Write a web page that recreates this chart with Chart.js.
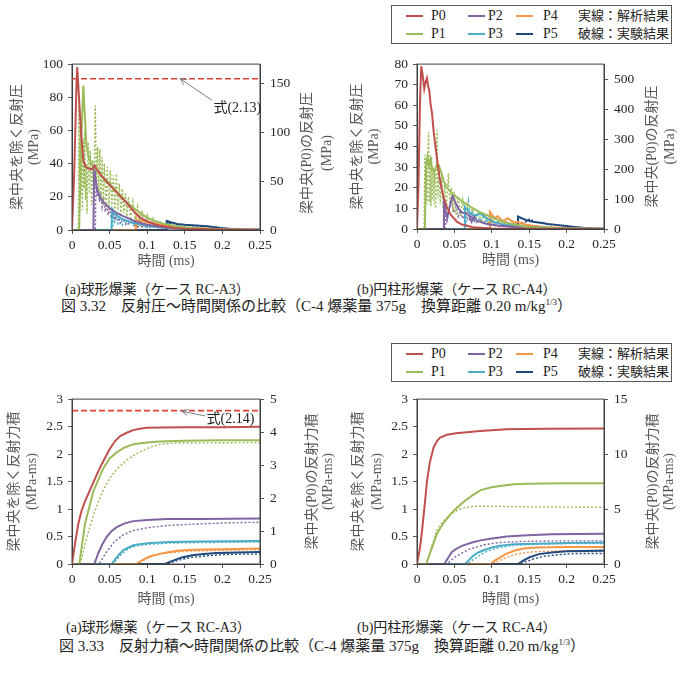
<!DOCTYPE html>
<html>
<head>
<meta charset="utf-8">
<script src="https://cdn.jsdelivr.net/npm/chart.js@4"></script>
<style>
  body { margin: 0; width: 684px; height: 679px; position: relative; overflow: hidden; background: #fff;
         font-family: "Liberation Serif", "Noto Sans CJK JP", serif; color: #222; }
  canvas { position: absolute; }
  .cap { position: absolute; white-space: nowrap; font-size: 14px; line-height: 16px; }
  .fig { font-size: 15px; line-height: 17px; }
  .fig sup { font-size: 9px; vertical-align: 6px; line-height: 0; }
  .legend { position: absolute; border: 1px solid #595959; width: 279px; height: 37px; font-size: 14px; }
  .legend span { position: absolute; white-space: nowrap; line-height: 16px; }
  .legend i { position: absolute; width: 17px; height: 2px; }
</style>
</head>
<body>
<canvas id="chartA3p" width="340" height="225" style="left:0;top:50px"></canvas>
<canvas id="chartA4p" width="344" height="225" style="left:340px;top:50px"></canvas>
<canvas id="chartA3i" width="340" height="225" style="left:0;top:385px"></canvas>
<canvas id="chartA4i" width="344" height="225" style="left:340px;top:385px"></canvas>

<div class="cap" style="left:65px;top:282px">(a)球形爆薬（ケース RC-A3）</div>
<div class="cap" style="left:357px;top:282px">(b)円柱形爆薬（ケース RC-A4）</div>
<div class="cap fig" style="left:61px;top:298px">図 3.32　反射圧～時間関係の比較（C-4 爆薬量 375g　換算距離 0.20 m/kg<sup>1/3</sup>）</div>
<div class="cap" style="left:66px;top:620px">(a)球形爆薬（ケース RC-A3）</div>
<div class="cap" style="left:357px;top:620px">(b)円柱形爆薬（ケース RC-A4）</div>
<div class="cap fig" style="left:59px;top:638px">図 3.33　反射力積～時間関係の比較（C-4 爆薬量 375g　換算距離 0.20 m/kg<sup>1/3</sup>）</div>

<script>
// series names / colours
const seriesNames = ['P0', 'P1', 'P2', 'P3', 'P4', 'P5'];
const seriesColors = ['#C0504D', '#9BBB59', '#8064A2', '#4BACC6', '#F79646', '#1F497D'];
const legendNotes = ['実線：解析結果', '破線：実験結果'];

// axis ticks
const timeMax = 0.25, timeStep = 0.05;

// ---- (a) RC-A3 reflected pressure [time ms, MPa] ----
const p0SimA3p = [[0,0],[0.003,60],[0.006,150],[0.007,167],[0.009,140],[0.012,100],[0.015,72],[0.018,65],[0.022,63],[0.026,62],[0.03,66],[0.033,62],[0.04,55],[0.05,46],[0.06,38],[0.07,30],[0.08,21],[0.09,13],[0.1,9],[0.11,6],[0.12,4],[0.135,2],[0.15,1.2],[0.2,0.4],[0.25,0]];
const p1SimA3p = [[0,0],[0.0095,0],[0.012,50],[0.015,87],[0.017,70],[0.019,52],[0.022,44],[0.026,40],[0.03,37],[0.035,35],[0.04,32],[0.05,28],[0.06,23],[0.07,18],[0.08,14],[0.09,10.5],[0.1,7.5],[0.11,5.5],[0.12,4],[0.14,2.2],[0.16,1.2],[0.2,0.4],[0.25,0.1]];
const p2SimA3p = [[0,0],[0.0285,0],[0.0295,39],[0.031,32],[0.0335,24],[0.037,20],[0.042,16.5],[0.046,15],[0.05,13],[0.057,11],[0.065,9],[0.075,7],[0.085,5],[0.1,3.2],[0.12,1.8],[0.15,0.9],[0.2,0.3],[0.25,0.1]];
const p3SimA3p = [[0,0],[0.0525,0],[0.0535,12.5],[0.056,10],[0.06,8.5],[0.065,7],[0.07,6],[0.08,4.5],[0.09,3.5],[0.1,2.6],[0.11,2],[0.125,1.4],[0.15,0.9],[0.2,0.3],[0.25,0.1]];
const p4SimA3p = [[0,0],[0.085,0],[0.0855,6],[0.09,5],[0.095,5.5],[0.1,4.5],[0.11,3.8],[0.12,3],[0.13,2.3],[0.14,1.8],[0.16,1.2],[0.18,0.8],[0.2,0.5],[0.25,0.1]];
const p5SimA3p = [[0,0],[0.1255,0],[0.126,5.5],[0.13,4.8],[0.14,3.6],[0.15,3.1],[0.16,2.9],[0.17,2.6],[0.18,2.2],[0.19,1.6],[0.2,1.1],[0.21,0.7],[0.22,0.5],[0.235,0.2],[0.25,0.1]];
const p1ExpA3p = [[0,0],[0.0085,0],[0.009,80],[0.01,30],[0.011,62],[0.012,20],[0.013,45],[0.014,12],[0.015,55],[0.016,25],[0.017,60],[0.018,18],[0.019,40],[0.02,10],[0.0215,53],[0.023,22],[0.0245,48],[0.026,15],[0.0275,42],[0.029,20],[0.031,75],[0.0325,28],[0.034,50],[0.0355,20],[0.037,49],[0.0385,18],[0.04,44],[0.0415,15],[0.043,40],[0.045,14],[0.047,38],[0.049,12],[0.051,36],[0.053,15],[0.055,33],[0.057,10],[0.059,34],[0.061,12],[0.063,28],[0.065,8],[0.067,25],[0.069,10],[0.071,22],[0.073,8],[0.075,20],[0.078,6],[0.081,17],[0.084,5],[0.087,14],[0.09,4],[0.093,12],[0.096,3],[0.1,9],[0.104,2],[0.108,7],[0.112,2],[0.117,5],[0.122,1],[0.13,3],[0.14,1],[0.16,1.5],[0.18,0.5],[0.2,0.6],[0.25,0.2]];
const p2ExpA3p = [[0,0],[0.031,0],[0.032,28],[0.0335,20],[0.035,26],[0.0365,17],[0.038,23],[0.04,14],[0.042,20],[0.044,11],[0.046,16],[0.048,9],[0.05,13],[0.052,7],[0.054,11],[0.057,6],[0.06,9],[0.064,4],[0.068,7],[0.072,3],[0.078,5],[0.085,2],[0.1,2],[0.13,0.8],[0.2,0.2],[0.25,0]];
const p3ExpA3p = [[0,0],[0.054,0],[0.055,10],[0.057,5],[0.059,9],[0.061,4],[0.064,8],[0.067,3],[0.07,6],[0.074,3],[0.078,5],[0.083,2],[0.09,4],[0.1,1.5],[0.11,2.5],[0.13,1],[0.16,0.8],[0.2,0.3],[0.25,0]];
const p4ExpA3p = [[0,0],[0.084,0],[0.085,9],[0.087,3],[0.089,8],[0.091,2],[0.094,7],[0.097,2],[0.1,6],[0.103,1],[0.106,6],[0.109,2],[0.112,5],[0.116,1],[0.12,4],[0.124,1],[0.128,3],[0.133,1],[0.14,2],[0.15,0.8],[0.17,1],[0.2,0.3],[0.25,0]];
const p5ExpA3p = [[0,0],[0.127,0],[0.128,4.5],[0.132,3.5],[0.136,4],[0.14,3],[0.15,3.2],[0.16,2.5],[0.17,2.6],[0.18,2],[0.19,1.8],[0.2,1],[0.21,0.6],[0.23,0.3],[0.25,0.1]];
const formulaA3p = 155;   // 式(2.13), right axis

// ---- (b) RC-A4 reflected pressure ----
const p0SimA4p = [[0,0],[0.002,150],[0.004,420],[0.0057,543],[0.0075,515],[0.0097,468],[0.0115,490],[0.0133,503],[0.015,475],[0.0165,460],[0.018,420],[0.02,387],[0.0225,320],[0.0245,279],[0.028,210],[0.031,160],[0.035,110],[0.04,73],[0.045,48],[0.053,25],[0.06,15],[0.075,6],[0.1,2],[0.15,0.5],[0.25,0]];
const p1SimA4p = [[0,0],[0.0105,0],[0.012,30],[0.014,35],[0.016,31],[0.018,34],[0.02,29],[0.023,28],[0.0265,31],[0.029,31],[0.032,28],[0.036,23],[0.04,20],[0.045,18],[0.053,15.4],[0.06,13.5],[0.068,11.5],[0.0756,9.9],[0.085,8],[0.098,6],[0.11,4.2],[0.12,3],[0.135,1.8],[0.147,1],[0.17,0.6],[0.2,0.3],[0.25,0.1]];
const p2SimA4p = [[0,0],[0.0355,0],[0.036,14.6],[0.038,9],[0.0405,5.5],[0.043,10],[0.0476,16.2],[0.051,13],[0.0556,9.9],[0.06,8],[0.0667,7.6],[0.07,6.5],[0.073,3.6],[0.076,6],[0.08,4],[0.09,2.8],[0.098,2.2],[0.11,1.6],[0.13,1],[0.16,0.6],[0.2,0.3],[0.25,0.1]];
const p3SimA4p = [[0,0],[0.0635,0],[0.064,10.7],[0.068,9],[0.072,7.5],[0.076,6.5],[0.08,6.8],[0.0845,7.4],[0.09,6],[0.095,4.8],[0.1,3.8],[0.11,2.6],[0.12,2],[0.135,1.4],[0.15,1],[0.175,0.6],[0.2,0.3],[0.25,0.1]];
const p4SimA4p = [[0,0],[0.0965,0],[0.0975,8.3],[0.1,7],[0.1045,5.2],[0.108,6.2],[0.111,5],[0.114,3.8],[0.118,4.5],[0.1215,5.2],[0.125,4.2],[0.13,3.2],[0.135,3.4],[0.14,2.8],[0.146,2.1],[0.155,1.6],[0.17,1],[0.185,0.7],[0.2,0.5],[0.225,0.3],[0.25,0.1]];
const p5SimA4p = [[0,0],[0.1345,0],[0.135,6],[0.14,5.2],[0.147,4.2],[0.155,3.5],[0.165,3],[0.175,2.4],[0.187,2],[0.2,1.4],[0.21,1],[0.222,0.6],[0.235,0.3],[0.25,0.1]];
const p1ExpA4p = [[0,0],[0.0095,0],[0.0105,36],[0.0115,14],[0.0125,34],[0.0135,12],[0.0145,37],[0.0155,47],[0.0165,13],[0.0175,33],[0.0185,11],[0.0195,35],[0.0205,14],[0.0215,30],[0.0225,12],[0.0235,28],[0.025,10],[0.0267,48],[0.028,15],[0.0295,30],[0.031,12],[0.033,25],[0.035,10],[0.037,22],[0.039,9],[0.042,27],[0.044,10],[0.046,20],[0.048,8],[0.05,18],[0.052,7],[0.055,16],[0.058,6],[0.061,14],[0.064,5],[0.067,12],[0.07,5],[0.074,10],[0.078,4],[0.082,9],[0.086,3],[0.09,7],[0.095,3],[0.1,5],[0.106,2],[0.112,4],[0.12,1.5],[0.13,2.5],[0.14,1],[0.16,1],[0.2,0.3],[0.25,0.1]];
const p2ExpA4p = [[0,0],[0.0375,0],[0.038,13],[0.04,4],[0.043,9],[0.046,14],[0.049,8],[0.052,11],[0.055,6],[0.058,9],[0.061,5],[0.065,7],[0.069,4],[0.073,6],[0.078,3],[0.085,4],[0.095,2],[0.11,1.5],[0.14,0.8],[0.2,0.3],[0.25,0]];
const p3ExpA4p = [[0,0],[0.066,0],[0.067,8],[0.069,13.4],[0.071,5],[0.074,9],[0.077,4],[0.08,7],[0.084,4],[0.088,6],[0.092,3],[0.097,5],[0.102,2],[0.108,3.5],[0.115,1.5],[0.125,2],[0.14,1],[0.17,0.6],[0.2,0.3],[0.25,0]];
const p4ExpA4p = [[0,0],[0.098,0],[0.099,6],[0.102,3],[0.105,5],[0.108,2.5],[0.112,4],[0.116,2],[0.12,3.5],[0.125,1.5],[0.13,3],[0.136,1.5],[0.142,2.5],[0.15,1.2],[0.16,1.5],[0.175,0.8],[0.2,0.4],[0.25,0.1]];
const p5ExpA4p = [[0,0],[0.138,0],[0.139,3.5],[0.143,2.5],[0.148,4.5],[0.152,5],[0.157,3.5],[0.162,3],[0.168,3.2],[0.175,2.2],[0.185,2],[0.2,1.2],[0.215,0.8],[0.23,0.4],[0.25,0.1]];

// ---- (a) RC-A3 reflected impulse [time ms, MPa-ms] ----
const p0SimA3i = [[0,0],[0.004,0.62],[0.0084,1.22],[0.0125,1.6],[0.0173,1.9],[0.025,2.3],[0.0328,2.7],[0.04,3.05],[0.05,3.48],[0.057,3.72],[0.064,3.88],[0.0727,3.98],[0.0815,4.06],[0.09,4.1],[0.099,4.13],[0.12,4.14],[0.15,4.15],[0.2,4.15],[0.25,4.16]];
const p1SimA3i = [[0,0],[0.0097,0],[0.0173,0.73],[0.0283,1.32],[0.0416,1.74],[0.05,1.92],[0.0594,2.03],[0.07,2.12],[0.0816,2.18],[0.1,2.21],[0.117,2.23],[0.15,2.24],[0.2,2.25],[0.25,2.25]];
const p2SimA3i = [[0,0],[0.0297,0],[0.035,0.2],[0.04,0.35],[0.046,0.49],[0.052,0.59],[0.0594,0.67],[0.07,0.74],[0.0815,0.78],[0.1,0.8],[0.126,0.82],[0.17,0.82],[0.25,0.83]];
const p3SimA3i = [[0,0],[0.053,0],[0.058,0.1],[0.063,0.18],[0.068,0.25],[0.075,0.3],[0.0816,0.34],[0.09,0.36],[0.104,0.38],[0.13,0.4],[0.17,0.41],[0.25,0.42]];
const p4SimA3i = [[0,0],[0.086,0],[0.09,0.04],[0.095,0.08],[0.104,0.14],[0.115,0.18],[0.126,0.21],[0.14,0.24],[0.16,0.26],[0.2,0.27],[0.25,0.28]];
const p5SimA3i = [[0,0],[0.124,0],[0.13,0.04],[0.138,0.08],[0.146,0.12],[0.16,0.16],[0.175,0.18],[0.192,0.2],[0.22,0.21],[0.25,0.22]];
const p1ExpA3i = [[0,0],[0.011,0],[0.02,0.5],[0.03,0.95],[0.04,1.3],[0.05,1.56],[0.06,1.73],[0.0727,1.89],[0.085,2.0],[0.095,2.07],[0.105,2.13],[0.117,2.18],[0.135,2.2],[0.25,2.21]];
const p2ExpA3i = [[0,0],[0.036,0],[0.045,0.2],[0.056,0.4],[0.068,0.53],[0.0815,0.61],[0.1,0.66],[0.126,0.7],[0.17,0.73],[0.21,0.75],[0.25,0.76]];
const p3ExpA3i = [[0,0],[0.055,0],[0.06,0.09],[0.066,0.18],[0.072,0.25],[0.08,0.31],[0.09,0.34],[0.104,0.36],[0.13,0.38],[0.17,0.39],[0.25,0.4]];
const p4ExpA3i = [[0,0],[0.085,0],[0.09,0.03],[0.1,0.1],[0.11,0.16],[0.126,0.2],[0.15,0.23],[0.2,0.25],[0.25,0.26]];
const p5ExpA3i = [[0,0],[0.127,0],[0.135,0.04],[0.145,0.08],[0.16,0.12],[0.18,0.15],[0.2,0.17],[0.22,0.18],[0.25,0.18]];
const formulaA3i = 4.65;  // 式(2.14), right axis

// ---- (b) RC-A4 reflected impulse ----
const p0SimA4i = [[0,0],[0.004,1.5],[0.0067,3.0],[0.01,5.2],[0.0133,7.5],[0.017,9.2],[0.0222,10.6],[0.027,11.2],[0.031,11.5],[0.04,11.75],[0.0523,11.9],[0.0845,12.1],[0.12,12.25],[0.17,12.3],[0.25,12.33]];
const p1SimA4i = [[0,0],[0.0124,0],[0.018,0.22],[0.0267,0.55],[0.035,0.74],[0.0445,0.9],[0.053,1.02],[0.0623,1.13],[0.073,1.24],[0.0845,1.34],[0.098,1.39],[0.111,1.42],[0.13,1.45],[0.147,1.46],[0.2,1.47],[0.25,1.47]];
const p2SimA4i = [[0,0],[0.0369,0],[0.041,0.1],[0.0467,0.22],[0.052,0.27],[0.06,0.33],[0.0756,0.4],[0.085,0.43],[0.098,0.46],[0.12,0.5],[0.141,0.52],[0.18,0.54],[0.25,0.55]];
const p3SimA4i = [[0,0],[0.0645,0],[0.07,0.08],[0.075,0.15],[0.082,0.21],[0.089,0.25],[0.1,0.3],[0.111,0.33],[0.13,0.36],[0.16,0.37],[0.2,0.38],[0.25,0.39]];
const p4SimA4i = [[0,0],[0.098,0],[0.105,0.07],[0.112,0.13],[0.12,0.19],[0.13,0.24],[0.142,0.28],[0.16,0.3],[0.2,0.31],[0.25,0.31]];
const p5SimA4i = [[0,0],[0.135,0],[0.142,0.06],[0.15,0.12],[0.163,0.18],[0.18,0.21],[0.2,0.23],[0.25,0.24]];
const p1ExpA4i = [[0,0],[0.0124,0],[0.018,0.25],[0.0267,0.62],[0.035,0.78],[0.0445,0.9],[0.053,0.97],[0.062,1.02],[0.07,1.04],[0.08,1.05],[0.1,1.05],[0.15,1.04],[0.25,1.03]];
const p2ExpA4i = [[0,0],[0.04,0],[0.05,0.12],[0.06,0.2],[0.07,0.27],[0.08,0.31],[0.09,0.35],[0.11,0.39],[0.14,0.41],[0.18,0.42],[0.25,0.42]];
const p3ExpA4i = [[0,0],[0.068,0],[0.075,0.08],[0.085,0.17],[0.095,0.24],[0.11,0.3],[0.13,0.34],[0.16,0.36],[0.2,0.37],[0.25,0.37]];
const p4ExpA4i = [[0,0],[0.1,0],[0.11,0.06],[0.12,0.12],[0.13,0.17],[0.145,0.21],[0.165,0.23],[0.2,0.24],[0.25,0.26]];
const p5ExpA4i = [[0,0],[0.138,0],[0.145,0.04],[0.155,0.09],[0.17,0.14],[0.19,0.17],[0.21,0.19],[0.25,0.19]];

const tickFont = { family: '"Liberation Serif", serif', size: 13.5 };
const titleFont = '14px "Liberation Serif", "Noto Sans CJK JP", sans-serif';

// frame around the plot, rotated axis titles and the 式 arrow note
const panelDecor = {
    id: 'panelDecor',
    afterDraw(chart, args, o) {
        const { ctx, chartArea: a } = chart;
        ctx.save();
        ctx.strokeStyle = '#404040';
        ctx.lineWidth = 1;
        ctx.strokeRect(a.left, a.top, a.right - a.left, a.bottom - a.top);

        ctx.fillStyle = '#595959';
        ctx.font = titleFont;
        ctx.textAlign = 'center';
        ctx.textBaseline = 'middle';
        const midY = (a.top + a.bottom) / 2;
        o.yTitles.forEach(t => {
            ctx.save();
            ctx.translate(t.x, midY + (t.dy || 0));
            ctx.rotate(-Math.PI / 2);
            ctx.fillText(t.text, 0, 0);
            ctx.restore();
        });
        ctx.fillText('時間 (ms)', (a.left + a.right) / 2, a.bottom + o.xGap);

        if (o.note) {
            const xs = chart.scales.x, ys = chart.scales.y1;
            const tx = xs.getPixelForValue(o.note.tip[0]), ty = ys.getPixelForValue(o.note.tip[1]);
            const fx = xs.getPixelForValue(o.note.from[0]), fy = ys.getPixelForValue(o.note.from[1]);
            ctx.strokeStyle = '#7f7f7f';
            ctx.beginPath();
            ctx.moveTo(fx, fy);
            ctx.lineTo(tx, ty);
            const ang = Math.atan2(ty - fy, tx - fx);
            [0.45, -0.45].forEach(d => {
                ctx.moveTo(tx, ty);
                ctx.lineTo(tx - 7 * Math.cos(ang + d), ty - 7 * Math.sin(ang + d));
            });
            ctx.stroke();
            ctx.fillStyle = '#222';
            ctx.textAlign = 'left';
            ctx.fillText(o.note.text, xs.getPixelForValue(o.note.at[0]), ys.getPixelForValue(o.note.at[1]));
        }
        ctx.restore();
    }
};

function lineSet(pts, color, dotted, axis, width) {
    return {
        data: pts.map(p => ({ x: p[0], y: p[1] })),
        showLine: true,
        borderColor: color,
        borderWidth: dotted ? 1.4 : width,
        borderDash: dotted ? [2, 2] : [],
        pointRadius: 0,
        yAxisID: axis
    };
}

function tickText(v) {
    return String(Math.round(v * 100) / 100);
}

function makeChart(p) {
    const sets = [];
    p.sims.forEach((pts, i) => sets.push(lineSet(pts, seriesColors[i], false, i === 0 ? 'y1' : 'y', 2)));
    p.exps.forEach((pts, i) => {
        if (pts) sets.push(lineSet(pts, seriesColors[i], true, i === 0 ? 'y1' : 'y', 2));
    });
    if (p.formula != null) {
        const f = lineSet([[0, p.formula], [timeMax, p.formula]], '#E0403A', false, 'y1', 1.6);
        f.borderDash = [6, 3];
        sets.push(f);
    }

    const axisGrid = { drawOnChartArea: false, drawTicks: true, tickLength: 4, color: '#595959' };
    const axisBorder = { display: true, color: '#404040' };

    new Chart(document.getElementById(p.id), {
        type: 'scatter',
        data: { datasets: sets },
        options: {
            responsive: false,
            animation: false,
            layout: { padding: { top: p.area[1] - p.top, left: 0, right: 0, bottom: 0 } },
            plugins: {
                legend: { display: false },
                tooltip: { enabled: false },
                panelDecor: { yTitles: p.yTitles.map(t => ({ ...t, x: t.x - p.left })), xGap: p.xGap, note: p.note }
            },
            scales: {
                x: {
                    type: 'linear', min: 0, max: timeMax,
                    ticks: { stepSize: timeStep, font: tickFont, color: '#262626', padding: 3, callback: tickText, maxRotation: 0 },
                    grid: axisGrid, border: axisBorder,
                    afterFit: s => { s.height = p.top + p.h - p.area[3]; }
                },
                y: {
                    position: 'left', min: 0, max: p.yMax,
                    ticks: { stepSize: p.yStep, font: tickFont, color: '#262626', padding: 5, callback: tickText },
                    grid: axisGrid, border: axisBorder,
                    afterFit: s => { s.width = p.area[0] - p.left; }
                },
                y1: {
                    position: 'right', min: 0, max: p.y1Max,
                    ticks: { stepSize: p.y1Step, includeBounds: false, font: tickFont, color: '#262626', padding: 6, callback: tickText },
                    grid: axisGrid, border: axisBorder,
                    afterFit: s => { s.width = p.left + p.w - p.area[2]; }
                }
            }
        },
        plugins: [panelDecor]
    });
}

makeChart({
    id: 'chartA3p', left: 0, top: 50, w: 340, h: 225, area: [72, 60, 260, 230],
    yMax: 100, yStep: 20, y1Max: 170, y1Step: 50, xGap: 31,
    sims: [p0SimA3p, p1SimA3p, p2SimA3p, p3SimA3p, p4SimA3p, p5SimA3p],
    exps: [null, p1ExpA3p, p2ExpA3p, p3ExpA3p, p4ExpA3p, p5ExpA3p],
    formula: formulaA3p,
    note: { text: '式(2.13)', tip: [0.144, 155], from: [0.186, 133], at: [0.188, 125] },
    yTitles: [
        { text: '梁中央を除く反射圧', x: 17 }, { text: '(MPa)', x: 34 },
        { text: '梁中央(P0)の反射圧', x: 307, dy: 6 }, { text: '(MPa)', x: 327, dy: 6 }
    ]
});

makeChart({
    id: 'chartA4p', left: 340, top: 50, w: 344, h: 225, area: [417, 60, 604, 229],
    yMax: 80, yStep: 10, y1Max: 550, y1Step: 100, xGap: 31,
    sims: [p0SimA4p, p1SimA4p, p2SimA4p, p3SimA4p, p4SimA4p, p5SimA4p],
    exps: [null, p1ExpA4p, p2ExpA4p, p3ExpA4p, p4ExpA4p, p5ExpA4p],
    yTitles: [
        { text: '梁中央を除く反射圧', x: 357 }, { text: '(MPa)', x: 374 },
        { text: '梁中央(P0)の反射圧', x: 652 }, { text: '(MPa)', x: 670 }
    ]
});

makeChart({
    id: 'chartA3i', left: 0, top: 385, w: 340, h: 225, area: [72, 396, 260, 564],
    yMax: 3, yStep: 0.5, y1Max: 5, y1Step: 1, xGap: 35,
    sims: [p0SimA3i, p1SimA3i, p2SimA3i, p3SimA3i, p4SimA3i, p5SimA3i],
    exps: [null, p1ExpA3i, p2ExpA3i, p3ExpA3i, p4ExpA3i, p5ExpA3i],
    formula: formulaA3i,
    note: { text: '式(2.14)', tip: [0.146, 4.63], from: [0.177, 4.49], at: [0.179, 4.38] },
    yTitles: [
        { text: '梁中央を除く反射力積', x: 14 }, { text: '(MPa-ms)', x: 32 },
        { text: '梁中央(P0)の反射力積', x: 312 }, { text: '(MPa-ms)', x: 328 }
    ]
});

makeChart({
    id: 'chartA4i', left: 340, top: 385, w: 344, h: 225, area: [417, 394, 604, 564],
    yMax: 3, yStep: 0.5, y1Max: 15, y1Step: 5, xGap: 35,
    sims: [p0SimA4i, p1SimA4i, p2SimA4i, p3SimA4i, p4SimA4i, p5SimA4i],
    exps: [null, p1ExpA4i, p2ExpA4i, p3ExpA4i, p4ExpA4i, p5ExpA4i],
    yTitles: [
        { text: '梁中央を除く反射力積', x: 358 }, { text: '(MPa-ms)', x: 377 },
        { text: '梁中央(P0)の反射力積', x: 653 }, { text: '(MPa-ms)', x: 669 }
    ]
});

// legend boxes (same content above both (b) panels)
function makeLegend(left, top) {
    const box = document.createElement('div');
    box.className = 'legend';
    box.style.left = left + 'px';
    box.style.top = top + 'px';
    const swatchX = [14, 76, 124], textX = [39, 96, 151], rowY = [10, 28];
    seriesNames.forEach((name, i) => {
        const col = Math.floor(i / 2), row = i % 2;
        const sw = document.createElement('i');
        sw.style.left = swatchX[col] + 'px';
        sw.style.top = (rowY[row] - 1) + 'px';
        sw.style.background = seriesColors[i];
        box.appendChild(sw);
        const tx = document.createElement('span');
        tx.textContent = name;
        tx.style.left = textX[col] + 'px';
        tx.style.top = (rowY[row] - 8) + 'px';
        box.appendChild(tx);
    });
    legendNotes.forEach((s, row) => {
        const tx = document.createElement('span');
        tx.textContent = s;
        tx.style.left = '186px';
        tx.style.top = (rowY[row] - 8) + 'px';
        tx.style.fontSize = '13px';
        box.appendChild(tx);
    });
    document.body.appendChild(box);
}
makeLegend(391, 5);
makeLegend(391, 343);
</script>
</body>
</html>
